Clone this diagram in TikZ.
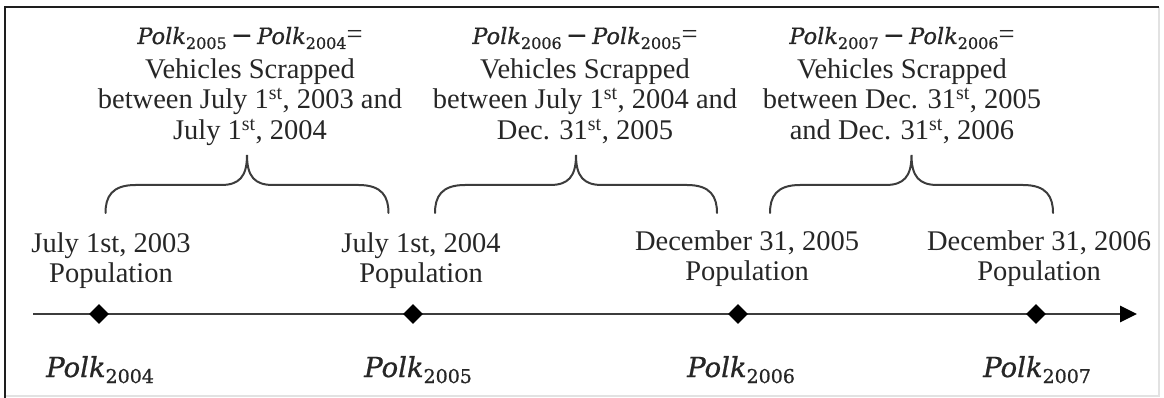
\documentclass[tikz,border=0pt]{standalone}
\usepackage{fontspec}
\setmainfont{Liberation Serif}
\newfontfamily\mathfont[FakeBold=0.8]{DejaVu Serif}
\usetikzlibrary{arrows.meta,shapes.geometric}

\definecolor{ink}{HTML}{262626}
\definecolor{axisgray}{HTML}{3C3C3C}
\definecolor{framedark}{HTML}{1E1E1E}
\definecolor{framelight}{HTML}{E2E2E2}

% Polk population symbols: large ones under the axis, smaller ones in the headings
\newcommand\PolkTop[1]{{\mathfont\fontsize{22.5}{22.5}\selectfont\itshape Polk}\raisebox{-5pt}{\mathfont\fontsize{16}{16}\selectfont #1}}
\newcommand\PolkBot[1]{{\mathfont\fontsize{27.5}{27.5}\selectfont\itshape Polk}\raisebox{-6pt}{\mathfont\fontsize{19}{19}\selectfont #1}}
\newcommand\polkminus{{\mathfont\fontsize{26}{26}\selectfont\,−\,}}

\tikzset{
  textbase/.style={inner sep=0pt, text=ink, font=\fontsize{28.5}{30.5}\selectfont},
  scrapnote/.style={textbase, anchor=base},
  datelabel/.style={textbase, anchor=base},
  polklabel/.style={inner sep=0pt, text=ink, anchor=base west},
  datemark/.style={diamond, aspect=1, fill=black, draw=none, inner sep=0pt,
                   minimum width=20pt, minimum height=20pt},
  timeaxis/.style={draw=axisgray, line width=2.8pt,
                   -{Triangle[length=17pt,width=16pt,color=black]}},
  bracestyle/.style={draw=axisgray, line width=2pt, line cap=round},
  pics/curlybrace/.style={code={
    \draw[bracestyle] (-#1,58) .. controls (-#1,42) and (-#1+6,30) .. (-#1+30,30)
      -- (-26,30) .. controls (-8,30) and (0,22) .. (0,0)
      .. controls (0,22) and (8,30) .. (26,30)
      -- (#1-30,30) .. controls (#1-6,30) and (#1,42) .. (#1,58);
  }}
}

\begin{document}
\begin{tikzpicture}[x=1pt, y=-1pt]
  \useasboundingbox (0,0) rectangle (1164,398);

  % outer frame
  \draw[framelight, line width=1.5pt] (1159,7) -- (1159,396) -- (5,396);
  \draw[framedark, line width=2.6pt] (5,398) -- (5,7) -- (1159,7);

  % headings over each interval
  \node[scrapnote] (scrap1) at (250,44) {\begin{tabular}[t]{@{}c@{}}
      \PolkTop{2005}\polkminus\PolkTop{2004}=\\[4pt]
      Vehicles Scrapped\\
      between July 1\textsuperscript{st}, 2003 and\\
      July 1\textsuperscript{st}, 2004\end{tabular}};
  \node[scrapnote] (scrap2) at (585,44) {\begin{tabular}[t]{@{}c@{}}
      \PolkTop{2006}\polkminus\PolkTop{2005}=\\[4pt]
      Vehicles Scrapped\\
      between July 1\textsuperscript{st}, 2004 and\\
      Dec. 31\textsuperscript{st}, 2005\end{tabular}};
  \node[scrapnote] (scrap3) at (902,44) {\begin{tabular}[t]{@{}c@{}}
      \PolkTop{2007}\polkminus\PolkTop{2006}=\\[4pt]
      Vehicles Scrapped\\
      between Dec. 31\textsuperscript{st}, 2005\\
      and Dec. 31\textsuperscript{st}, 2006\end{tabular}};

  % braces spanning the intervals
  \pic (brace1) at (247,155) {curlybrace=141.5};
  \pic (brace2) at (576,155) {curlybrace=141};
  \pic (brace3) at (911.5,155) {curlybrace=141.5};

  % population dates
  \node[datelabel] (pop2003) at (111,252) {\begin{tabular}[t]{@{}c@{}}July 1st, 2003\\Population\end{tabular}};
  \node[datelabel] (pop2004) at (421,252) {\begin{tabular}[t]{@{}c@{}}July 1st, 2004\\Population\end{tabular}};
  \node[datelabel] (pop2005) at (747,250) {\begin{tabular}[t]{@{}c@{}}December 31, 2005\\Population\end{tabular}};
  \node[datelabel] (pop2006) at (1039,250) {\begin{tabular}[t]{@{}c@{}}December 31, 2006\\Population\end{tabular}};

  % time axis
  \coordinate (axstart) at (33,314);
  \coordinate (axend) at (1137,314);
  \draw[timeaxis] (axstart) -- (axend);

  \node[datemark] (m2004) at (99,314) {};
  \node[datemark] (m2005) at (413,314) {};
  \node[datemark] (m2006) at (738,314) {};
  \node[datemark] (m2007) at (1036,314) {};

  % Polk counts under the axis
  \node[polklabel] (polk2004) at (46,377) {\PolkBot{2004}};
  \node[polklabel] (polk2005) at (364,377) {\PolkBot{2005}};
  \node[polklabel] (polk2006) at (687,377) {\PolkBot{2006}};
  \node[polklabel] (polk2007) at (983,377) {\PolkBot{2007}};
\end{tikzpicture}
\end{document}
